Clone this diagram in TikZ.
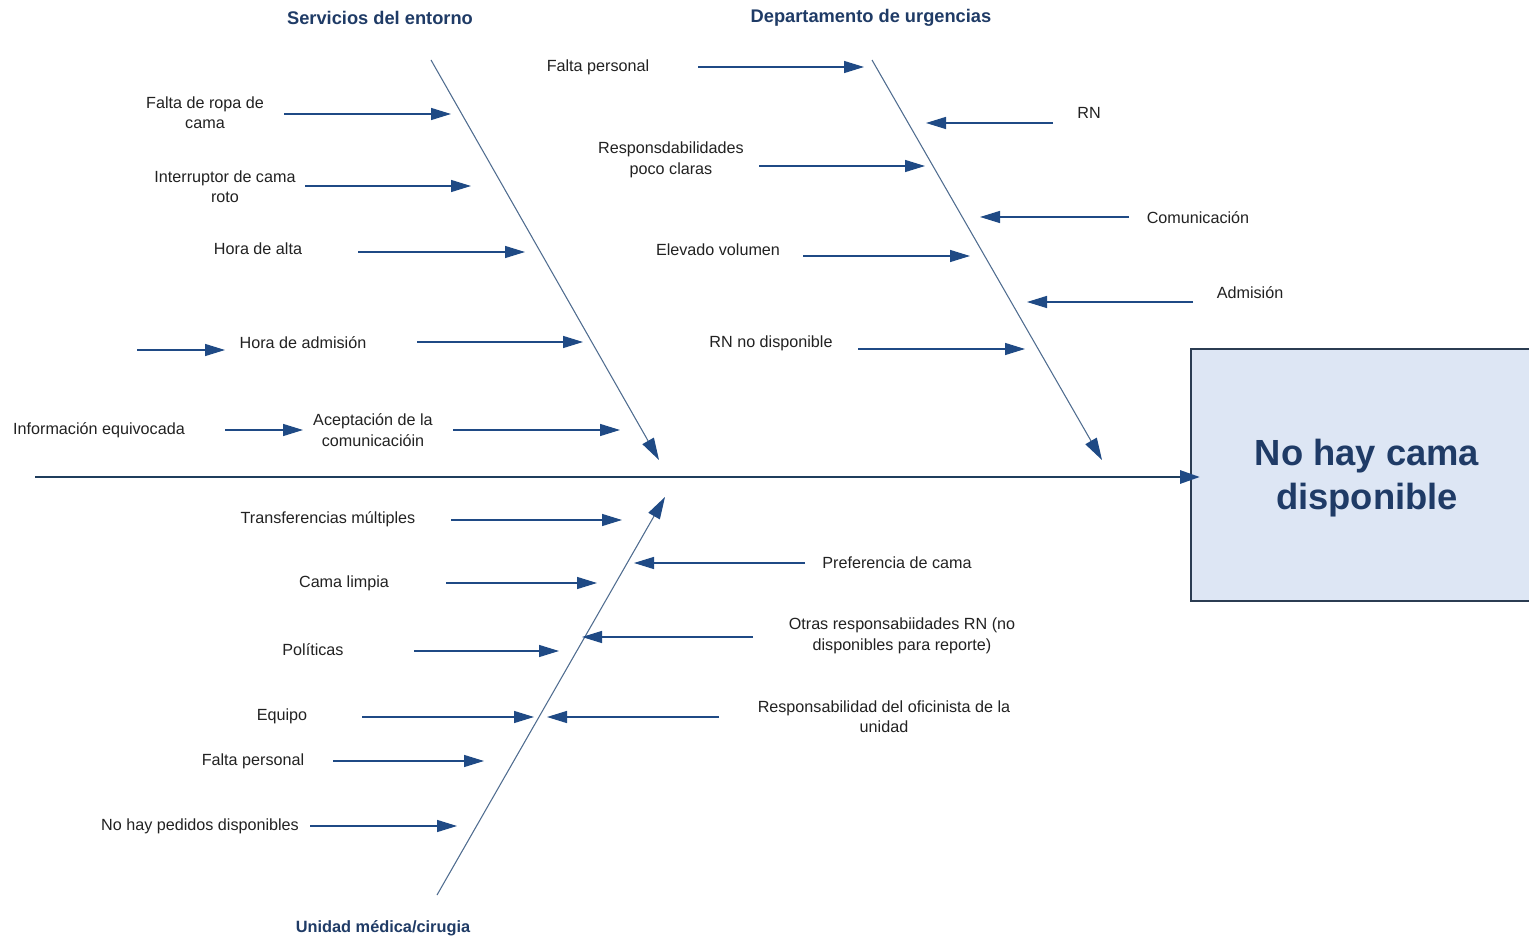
\documentclass[tikz,border=0pt]{standalone}
\usepackage{fontspec}
\setmainfont{Liberation Sans}
\usetikzlibrary{arrows.meta}
\definecolor{navy}{HTML}{1F3B66}
\definecolor{arrowblue}{HTML}{1F4A85}
\definecolor{bonegray}{HTML}{4F6C8F}
\definecolor{spinecol}{HTML}{1F3D5C}
\definecolor{boxfill}{HTML}{DDE6F4}
\definecolor{boxline}{HTML}{2B3C52}
\definecolor{labelcol}{HTML}{222222}
\tikzset{
  cause/.style={font=\fontsize{9.2pt}{11.6pt}\selectfont, text=labelcol, align=center, inner sep=0pt},
  cattitle/.style={font=\fontsize{10.4pt}{12pt}\selectfont\bfseries, text=navy, inner sep=0pt},
  causearrow/.style={draw=arrowblue, line width=0.75pt, -{Triangle[length=4mm,width=2.4mm]}},
  bone/.style={draw=bonegray, line width=0.6pt, -{Triangle[length=4.4mm,width=2.6mm,color=arrowblue,fill=arrowblue]}},
  spine/.style={draw=spinecol, line width=1.7pt, -{Triangle[length=4mm,width=2.6mm,color=arrowblue,fill=arrowblue]}},
  effect/.style={draw=boxline, fill=boxfill, line width=1pt}
}
\begin{document}
\begin{tikzpicture}[x=0.02cm, y=-0.02cm]
\clip (0,0) rectangle (1529,939);
\fill[white] (0,0) rectangle (1529,939);

% effect box
\draw[effect] (1191,349) rectangle (1560,601);
\node[font=\fontsize{20.7pt}{25pt}\selectfont\bfseries, text=navy, align=center] (effect) at (1367,478) {No hay cama\\disponible};

% spine
\coordinate (spineS) at (35,477);
\coordinate (spineE) at (1200,477);
\draw[spine] (spineS) -- (spineE);

% category bones
\coordinate (b1s) at (431,60);   \coordinate (b1e) at (659,460);
\coordinate (b2s) at (872,60);   \coordinate (b2e) at (1102,460);
\coordinate (b3s) at (437,895);  \coordinate (b3e) at (665,497);
\draw[bone] (b1s) -- (b1e);
\draw[bone] (b2s) -- (b2e);
\draw[bone] (b3s) -- (b3e);

% category titles
\node[cattitle] (c1) at (380,18) {Servicios del entorno};
\node[cattitle] (c2) at (871,18) {Departamento de urgencias};
\node[cattitle, font=\fontsize{9.3pt}{12pt}\selectfont\bfseries] (c3) at (383,928) {Unidad médica/cirugia};

% --- Servicios del entorno
\node[cause] (s1) at (205,113) {Falta de ropa de\\cama};
\coordinate (s1a) at (284,114); \coordinate (s1b) at (451,114);
\draw[causearrow] (s1a) -- (s1b);

\node[cause] (s2) at (225,187) {Interruptor de cama\\roto};
\coordinate (s2a) at (305,186); \coordinate (s2b) at (471,186);
\draw[causearrow] (s2a) -- (s2b);

\node[cause] (s3) at (258,249) {Hora de alta};
\coordinate (s3a) at (358,252); \coordinate (s3b) at (525,252);
\draw[causearrow] (s3a) -- (s3b);

\node[cause] (s4) at (303,343) {Hora de admisión};
\coordinate (s4a) at (417,342); \coordinate (s4b) at (583,342);
\draw[causearrow] (s4a) -- (s4b);
\coordinate (s4c) at (137,350); \coordinate (s4d) at (225,350);
\draw[causearrow] (s4c) -- (s4d);

\node[cause] (s5) at (373,430) {Aceptación de la\\comunicacióin};
\coordinate (s5a) at (453,430); \coordinate (s5b) at (620,430);
\draw[causearrow] (s5a) -- (s5b);

\node[cause] (s6) at (99,430) {Información equivocada};
\coordinate (s6a) at (225,430); \coordinate (s6b) at (303,430);
\draw[causearrow] (s6a) -- (s6b);

% --- Departamento de urgencias
\node[cause] (d1) at (598,67) {Falta personal};
\coordinate (d1a) at (698,67); \coordinate (d1b) at (864,67);
\draw[causearrow] (d1a) -- (d1b);

\node[cause] (d2) at (1089,113) {RN};
\coordinate (d2a) at (1053,123); \coordinate (d2b) at (926,123);
\draw[causearrow] (d2a) -- (d2b);

\node[cause] (d3) at (671,160) {Responsdabilidades\\poco claras};
\coordinate (d3a) at (759,166); \coordinate (d3b) at (925,166);
\draw[causearrow] (d3a) -- (d3b);

\node[cause] (d4) at (1198,218) {Comunicación};
\coordinate (d4a) at (1129,217); \coordinate (d4b) at (980,217);
\draw[causearrow] (d4a) -- (d4b);

\node[cause] (d5) at (718,250) {Elevado volumen};
\coordinate (d5a) at (803,256); \coordinate (d5b) at (970,256);
\draw[causearrow] (d5a) -- (d5b);

\node[cause] (d6) at (1250,293) {Admisión};
\coordinate (d6a) at (1193,302); \coordinate (d6b) at (1027,302);
\draw[causearrow] (d6a) -- (d6b);

\node[cause] (d7) at (771,343) {RN no disponible};
\coordinate (d7a) at (858,349); \coordinate (d7b) at (1025,349);
\draw[causearrow] (d7a) -- (d7b);

% --- Unidad médica/cirugia
\node[cause] (u1) at (328,519) {Transferencias múltiples};
\coordinate (u1a) at (451,520); \coordinate (u1b) at (622,520);
\draw[causearrow] (u1a) -- (u1b);

\node[cause] (u2) at (344,583) {Cama limpia};
\coordinate (u2a) at (446,583); \coordinate (u2b) at (597,583);
\draw[causearrow] (u2a) -- (u2b);

\node[cause] (u3) at (897,563) {Preferencia de cama};
\coordinate (u3a) at (805,563); \coordinate (u3b) at (634,563);
\draw[causearrow] (u3a) -- (u3b);

\node[cause] (u4) at (902,636) {Otras responsabiidades RN (no\\disponibles para reporte)};
\coordinate (u4a) at (753,637); \coordinate (u4b) at (582,637);
\draw[causearrow] (u4a) -- (u4b);

\node[cause] (u5) at (313,650) {Políticas};
\coordinate (u5a) at (414,651); \coordinate (u5b) at (559,651);
\draw[causearrow] (u5a) -- (u5b);

\node[cause] (u6) at (282,716) {Equipo};
\coordinate (u6a) at (362,717); \coordinate (u6b) at (534,717);
\draw[causearrow] (u6a) -- (u6b);

\node[cause] (u7) at (884,717) {Responsabilidad del oficinista de la\\unidad};
\coordinate (u7a) at (719,717); \coordinate (u7b) at (547,717);
\draw[causearrow] (u7a) -- (u7b);

\node[cause] (u8) at (253,761) {Falta personal};
\coordinate (u8a) at (333,761); \coordinate (u8b) at (484,761);
\draw[causearrow] (u8a) -- (u8b);

\node[cause] (u9) at (200,826) {No hay pedidos disponibles};
\coordinate (u9a) at (310,826); \coordinate (u9b) at (457,826);
\draw[causearrow] (u9a) -- (u9b);
\end{tikzpicture}
\end{document}
